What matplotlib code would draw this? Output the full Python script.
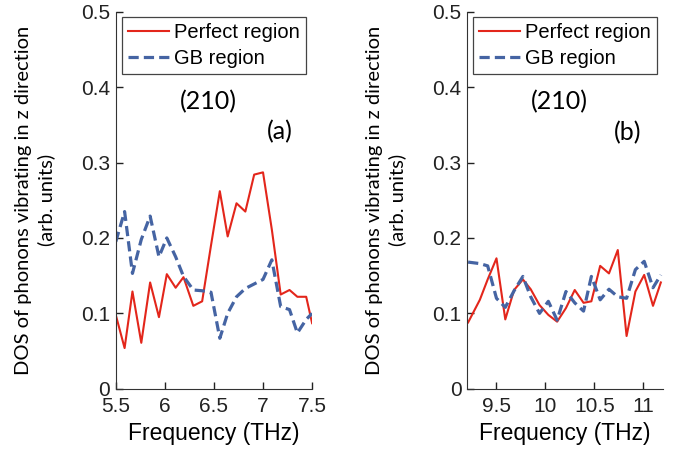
import matplotlib.pyplot as plt

# (a) 5.5-7.5 THz window
freq_a = [5.50, 5.59, 5.67, 5.76, 5.85, 5.94, 6.02, 6.11, 6.19, 6.29, 6.38, 6.47,
          6.56, 6.64, 6.73, 6.82, 6.91, 7.00, 7.09, 7.18, 7.27, 7.35, 7.44, 7.50]
perfect_a = [0.098, 0.054, 0.129, 0.061, 0.141, 0.095, 0.152, 0.134, 0.148, 0.110, 0.116, 0.190,
             0.262, 0.202, 0.246, 0.235, 0.284, 0.287, 0.211, 0.125, 0.131, 0.122, 0.122, 0.087]
gb_a = [0.195, 0.235, 0.153, 0.198, 0.229, 0.175, 0.200, 0.175, 0.149, 0.131, 0.130, 0.128,
        0.067, 0.100, 0.122, 0.133, 0.139, 0.145, 0.171, 0.109, 0.105, 0.074, 0.092, 0.100]

# (b) 9.2-11.2 THz window
freq_b = [9.21, 9.33, 9.41, 9.50, 9.59, 9.68, 9.77, 9.85, 9.94, 10.03, 10.12, 10.21,
          10.30, 10.39, 10.47, 10.56, 10.65, 10.74, 10.83, 10.92, 11.01, 11.10, 11.18]
perfect_b = [0.088, 0.118, 0.145, 0.173, 0.092, 0.131, 0.145, 0.132, 0.111, 0.098, 0.089, 0.107,
             0.131, 0.114, 0.116, 0.163, 0.153, 0.184, 0.070, 0.129, 0.151, 0.110, 0.141]
gb_b = [0.168, 0.166, 0.163, 0.120, 0.108, 0.130, 0.149, 0.122, 0.100, 0.116, 0.091, 0.129,
        0.114, 0.103, 0.149, 0.118, 0.132, 0.122, 0.120, 0.158, 0.169, 0.134, 0.151]

yticks = [0, 0.1, 0.2, 0.3, 0.4, 0.5]
ytick_labels = ["0", "0.1", "0.2", "0.3", "0.4", "0.5"]
xticks_a = [5.5, 6, 6.5, 7, 7.5]
xtick_labels_a = ["5.5", "6", "6.5", "7", "7.5"]
xticks_b = [9.5, 10, 10.5, 11]
xtick_labels_b = ["9.5", "10", "10.5", "11"]

RED = "#e3261b"
BLUE = "#4564a3"

plt.rcParams["font.family"] = ["Liberation Sans", "DejaVu Sans"]

fig = plt.figure(figsize=(6.77, 4.5), dpi=100)
ax_a = fig.add_axes([0.171, 0.136, 0.290, 0.838])
ax_b = fig.add_axes([0.690, 0.136, 0.289, 0.838])

panels = [
    (ax_a, freq_a, perfect_a, gb_a, (5.5, 7.5), xticks_a, xtick_labels_a, "(a)", (0.837, 0.682)),
    (ax_b, freq_b, perfect_b, gb_b, (9.2, 11.2), xticks_b, xtick_labels_b, "(b)", (0.822, 0.679)),
]

for ax, f, perf, gb, xlim, xt, xtl, tag, tag_pos in panels:
    ax.plot(f, perf, color=RED, lw=1.5, label="Perfect region")
    ax.plot(f, gb, color=BLUE, lw=2.3, linestyle=(0, (3.2, 1.6)), label="GB region")
    ax.set_xlim(*xlim)
    ax.set_ylim(0, 0.5)
    ax.set_xticks(xt)
    ax.set_xticklabels(xtl)
    ax.set_yticks(yticks)
    ax.set_yticklabels(ytick_labels)
    ax.tick_params(direction="in", length=5, width=1, labelsize=15, colors="#222222")
    ax.tick_params(axis="x", pad=6)
    ax.tick_params(axis="y", pad=4)
    for side in ["top", "right"]:
        ax.spines[side].set_visible(False)
    for side in ["left", "bottom"]:
        ax.spines[side].set_color("#333333")
    ax.set_xlabel("Frequency (THz)", fontsize=16.5, labelpad=4)
    ax.set_ylabel("DOS of phonons vibrating in z direction\n(arb. units)",
                  fontsize=14.5, family=["Lato", "DejaVu Sans"], linespacing=1.35)
    ax.yaxis.set_label_coords(-0.31, 0.5)
    leg = ax.legend(loc="upper center", bbox_to_anchor=(0.5, 0.985), fontsize=14.5,
                    fancybox=False, framealpha=1, edgecolor="#444444",
                    handlelength=2.0, handletextpad=0.25, labelspacing=0.35,
                    borderpad=0.3, borderaxespad=0)
    leg.get_frame().set_linewidth(0.9)
    ax.text(0.47, 0.761, "(210)", transform=ax.transAxes, ha="center", va="center",
            fontsize=18, family=["Lato", "DejaVu Sans"])
    ax.text(tag_pos[0], tag_pos[1], tag, transform=ax.transAxes, ha="center", va="center",
            fontsize=18, family=["Lato", "DejaVu Sans"])

fig.savefig("out.png", dpi=100)
